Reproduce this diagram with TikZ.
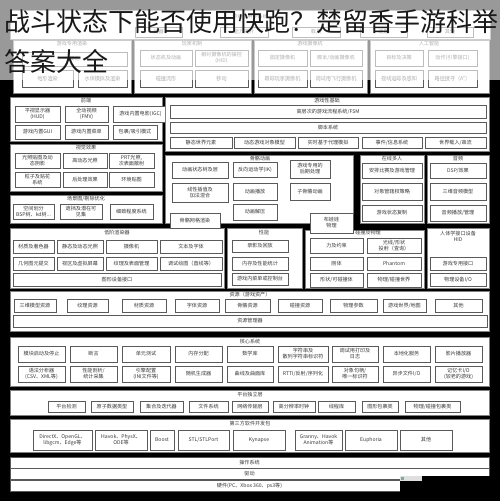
\documentclass[tikz,border=0pt]{standalone}
\usepackage{fontspec}
\newfontfamily\cjk{Noto Sans CJK SC}
\definecolor{boxgray}{HTML}{5A5A5A}
\definecolor{txtgray}{HTML}{3A3A3A}
\definecolor{pangray}{HTML}{808080}
\tikzset{
  bx/.style={draw=boxgray,fill=white,line width=0.8pt,inner sep=0pt,align=center,
    font=\cjk\fontsize{5.1}{6}\selectfont,text=txtgray},
  pnl/.style={draw=pangray,fill=white,line width=0.5pt,inner sep=0pt},
  ptl/.style={inner sep=0pt,font=\cjk\fontsize{5.1}{6}\selectfont,text=txtgray,align=center},
  ttl/.style={inner sep=0pt,anchor=base west,font=\cjk\fontsize{26}{30}\selectfont,text=black!90}
}
\newcommand\bx[6]{\node[bx,minimum width={(#4-#2)*1pt},minimum height={(#5-#3)*1pt}] (#1) at ({(#2+#4)/2},{(#3+#5)/2}) {#6};}
\newcommand\pn[5]{\node[pnl,minimum width={(#4-#2)*1pt},minimum height={(#5-#3)*1pt}] (#1) at ({(#2+#4)/2},{(#3+#5)/2}) {};}
\begin{document}
\begin{tikzpicture}[x=1pt,y=-1pt]
\useasboundingbox (0,0) rectangle (500,501);
\fill[black] (0,0) rectangle (500,501);
% ---------- game specific subsystems ----------
\pn{gss}{10}{10}{490}{39}
\node[ptl] (gsst) at (250,17) {游戏专用子系统};
\bx{wq}{135}{27}{182}{37}{武器}
\bx{nl}{220}{27}{268}{37}{能力提升}
\bx{zj}{292}{27}{340}{37}{载具}
\bx{mt}{360}{27}{407}{37}{谜题}
\bx{qt0}{427}{27}{473}{37}{其他}
\pn{gsr}{13}{40}{131}{93}
\node[ptl] (gsrt) at (72,44) {游戏专用渲染};
\bx{qtr}{22}{52}{127}{66}{其他}
\bx{dx}{22}{70}{73}{87}{地形渲染}
\bx{st}{78}{70}{127}{87}{水体模拟及渲染}
\pn{pm}{134}{40}{251}{93}
\node[ptl] (pmt) at (192,44) {玩家机制};
\bx{ztj}{140}{50}{192}{66}{状态机及动画}
\bx{xdc}{195}{50}{248}{66}{相对摄像机的操控\\(HID)}
\bx{pzl}{140}{70}{192}{87}{碰撞流形}
\bx{yd}{195}{70}{248}{87}{移动}
\pn{gc}{254}{40}{367}{93}
\node[ptl] (gct) at (310,44) {游戏摄像机};
\bx{gd}{258}{50}{307}{66}{固定摄像机}
\bx{jb}{310}{50}{362}{66}{脚本/动画摄像机}
\bx{gz}{258}{70}{307}{87}{跟踪玩家摄像机}
\bx{ts}{310}{70}{362}{87}{调试用飞行摄像机}
\pn{ai}{370}{40}{489}{93}
\node[ptl] (ait) at (429,44) {人工智能};
\bx{mb}{375}{50}{423}{66}{目标及决策}
\bx{dz}{428}{50}{477}{66}{动作(引擎接口)}
\bx{sx}{375}{70}{423}{87}{视线追踪及感知}
\bx{lj}{428}{70}{477}{87}{路径搜寻（A*）}
% ---------- front end ----------
\pn{fe}{10}{97}{162}{141}
\node[ptl] (fet) at (86,101) {前端};
\bx{hud}{15}{106}{60}{122}{平视显示器\\(HUD)}
\bx{fmv}{65}{106}{108}{122}{全动视频\\(FMV)}
\bx{igc}{113}{106}{168}{122}{游戏内置电影(IGC)}
\bx{gui}{15}{125}{60}{139}{游戏内置GUI}
\bx{cd}{65}{125}{108}{139}{游戏内置菜单}
\bx{bg}{113}{125}{157}{139}{包裹/吸引模式}
% ---------- visual effects ----------
\pn{ve}{10}{144}{162}{191}
\node[ptl] (vet) at (86,147.5) {视觉效果};
\bx{gztt}{15}{153}{60}{168}{光照贴图及动\\态阴影}
\bx{hdr}{63}{153}{107}{168}{高动态光照}
\bx{prt}{109}{153}{154}{168}{PRT光照,\\次表面散射}
\bx{lz}{15}{172}{60}{187}{粒子及贴花\\系统}
\bx{hcl}{63}{172}{107}{187}{后处理效果}
\bx{hj}{109}{172}{154}{187}{环境贴图}
% ---------- scene graph ----------
\pn{sg}{10}{195}{162}{223}
\node[ptl] (sgt) at (86,198.5) {场景图/剔除优化};
\bx{kj}{13}{204}{54}{219}{空间划分\\BSP树、kd树...}
\bx{zd}{60}{204}{102}{219}{遮挡及潜在可\\见集}
\bx{xz}{110}{204}{153}{219}{细致程度系统}
% ---------- gameplay foundations ----------
\pn{gf}{165}{97}{489}{151}
\node[ptl] (gft) at (327,101) {游戏性基础};
\bx{fsm}{170}{105}{486}{118}{高层次的游戏流程系统/FSM}
\bx{jbx}{170}{122}{486}{133}{脚本系统}
\bx{jt}{170}{137}{232}{148}{静态世界元素}
\bx{dt}{234}{137}{295}{148}{动态游戏对象模型}
\bx{ss}{298}{137}{358}{148}{实时基于代理模拟}
\bx{sj}{362}{137}{422}{148}{事件/信息系统}
\bx{sjzr}{425}{137}{486}{148}{世界载入/串流}
% ---------- skeletal animation ----------
\pn{sa}{165}{155}{353}{223}
\node[ptl] (sat) at (260,158.5) {骨骼动画};
\bx{dhs}{172}{162}{228}{178}{动画状态树及层}
\bx{ik}{233}{162}{277}{177}{反向运动学(IK)}
\bx{yxh}{290}{160}{330}{178}{游戏专用的\\后期处理}
\bx{xx}{172}{183}{228}{202}{线性插值及\\加法混合}
\bx{dhbf}{233}{183}{277}{200}{动画播放}
\bx{zgg}{290}{183}{330}{200}{子骨骼动画}
\bx{dhjy}{233}{204}{277}{220}{动画解压}
% ---------- online multiplayer ----------
\pn{om}{360}{155}{424}{223}
\node[ptl] (omt) at (392,158.5) {在线多人};
\bx{ap}{362}{163}{422}{178}{安排比赛及游戏管理}
\bx{dxg}{362}{183}{422}{200}{对象管辖权策略}
\bx{zt}{362}{205}{422}{221}{游戏状态复制}
% ---------- audio ----------
\pn{au}{427}{155}{489}{223}
\node[ptl] (aut) at (458,158.5) {音频};
\bx{dsp}{430}{163}{486}{178}{DSP/效果}
\bx{sw}{430}{183}{486}{200}{三维音频模型}
\bx{ypbf}{430}{205}{486}{221}{音频播放/管理}
% ---------- low level renderer ----------
\pn{llr}{10}{228}{224}{288}
\node[ptl] (llrt) at (117,233) {低阶渲染器};
\bx{czs}{13}{240}{54}{253}{材质及着色器}
\bx{jtg}{57}{240}{103}{253}{静态及动态光照}
\bx{sxj}{106}{240}{157}{253}{摄像机}
\bx{wb}{160}{240}{222}{253}{文本及字体}
\bx{jhty}{13}{257}{54}{270}{几何图元提交}
\bx{sq}{57}{257}{103}{270}{视区及虚拟屏幕}
\bx{wl}{106}{257}{157}{270}{纹理及表面管理}
\bx{tshz}{160}{257}{222}{270}{调试绘图（直线等）}
\bx{txsb}{13}{273}{221}{286}{图形设备接口}
\bx{ggwg}{170}{213}{220}{228}{骨骼网格渲染}
% ---------- profiling ----------
\pn{pf}{227}{228}{302}{288}
\node[ptl] (pft) at (264,233) {性能};
\bx{ly}{232}{240}{288}{252}{录影及回放}
\bx{nc}{232}{257}{288}{270}{内存及性能统计}
\bx{kzt}{232}{273}{288}{285}{游戏内菜单或控制台}
% ---------- collision & physics ----------
\pn{cp}{305}{230}{424}{288}
\node[ptl] (cpt) at (368,233) {碰撞及物理};
\bx{lys}{310}{238}{363}{253}{力及约束}
\bx{gx}{367}{238}{421}{253}{光线/形状\\投射（查询）}
\bx{gt}{310}{257}{363}{270}{刚体}
\bx{ph}{367}{257}{421}{270}{Phantom}
\bx{xzk}{310}{273}{363}{287}{形状/可碰撞体}
\bx{wlsj}{367}{273}{421}{287}{物理/碰撞世界}
\bx{bww}{310}{213}{353}{233}{布娃娃\\物理}
% ---------- HID ----------
\pn{hid}{427}{228}{489}{288}
\node[ptl] (hidt) at (458,236) {人体学接口设备\\HID};
\bx{zy}{430}{257}{486}{270}{游戏专用接口}
\bx{wlsb}{430}{273}{486}{286}{物理设备I/O}
% ---------- resources ----------
\pn{res}{10}{291}{489}{331}
\node[ptl] (rest) at (250,295) {资源（游戏资产）};
\bx{r1}{14}{299}{56}{312}{三维模型资源}
\bx{r2}{67}{299}{108}{312}{纹理资源}
\bx{r3}{122}{299}{166}{312}{材质资源}
\bx{r4}{175}{299}{219}{312}{字体资源}
\bx{r5}{225}{299}{270}{312}{骨骼资源}
\bx{r6}{278}{299}{322}{312}{碰撞资源}
\bx{r7}{330}{299}{377}{312}{物理参数}
\bx{r8}{383}{299}{426}{312}{游戏世界/地图}
\bx{r9}{435}{299}{482}{312}{其他}
\bx{rm}{13}{315}{487}{327}{资源管理器}
% ---------- core systems ----------
\pn{cs}{10}{337}{489}{386}
\node[ptl] (cst) at (250,342) {核心系统};
\bx{c1}{18}{346}{65}{362}{模块启动及停止}
\bx{c2}{70}{346}{117}{362}{断言}
\bx{c3}{122}{346}{170}{362}{单元测试}
\bx{c4}{175}{346}{222}{362}{内存分配}
\bx{c5}{227}{346}{273}{362}{数学库}
\bx{c6}{278}{346}{328}{362}{字符串及\\散列字符串标识符}
\bx{c7}{332}{346}{378}{362}{调试用打印及\\日志}
\bx{c8}{383}{346}{430}{362}{本地化服务}
\bx{c9}{435}{346}{482}{362}{影片播放器}
\bx{d1}{18}{366}{65}{382}{语法分析器\\(CSV、XML等)}
\bx{d2}{70}{366}{117}{382}{性能剖析/\\统计采集}
\bx{d3}{122}{366}{170}{382}{引擎配置\\(INI文件等)}
\bx{d4}{175}{366}{222}{382}{随机生成器}
\bx{d5}{227}{366}{273}{382}{曲线及曲面库}
\bx{d6}{278}{366}{328}{382}{RTTI/反射/序列化}
\bx{d7}{332}{366}{378}{382}{对象句柄/\\唯一标识符}
\bx{d8}{383}{366}{430}{382}{异步文件I/O}
\bx{d9}{435}{366}{482}{382}{记忆卡I/O\\(较老的游戏)}
% ---------- platform independence ----------
\pn{pi}{10}{390}{489}{415}
\node[ptl] (pit) at (250,395) {平台独立层};
\bx{p1}{48}{401}{85}{412}{平台检测}
\bx{p2}{91}{401}{133}{412}{原子数据类型}
\bx{p3}{140}{401}{183}{412}{集合及迭代器}
\bx{p4}{189}{401}{228}{412}{文件系统}
\bx{p5}{232}{401}{268}{412}{网络传输层}
\bx{p6}{273}{401}{315}{412}{高分辨率时钟}
\bx{p7}{318}{401}{355}{412}{线程库}
\bx{p8}{362}{401}{398}{412}{图形包裹类}
\bx{p9}{405}{401}{460}{412}{物理/碰撞包裹类}
% ---------- 3rd party ----------
\pn{tp}{10}{419}{489}{452}
\node[ptl] (tpt) at (250,424) {第三方软件开发包};
\bx{t1}{33}{430}{92}{450}{DirectX、OpenGL、\\libgcm、Edge等}
\bx{t2}{95}{430}{147}{450}{Havok、PhysX、\\ODE等}
\bx{t3}{150}{430}{174}{450}{Boost}
\bx{t4}{178}{430}{229}{450}{STL/STLPort}
\bx{t5}{233}{430}{285}{450}{Kynapse}
\bx{t6}{295}{430}{342}{450}{Granny、Havok\\Animation等}
\bx{t7}{345}{430}{397}{450}{Euphoria}
\bx{t8}{400}{430}{452}{450}{其他}
% ---------- OS / drivers / hardware ----------
\bx{os}{10}{457}{489}{468}{操作系统}
\bx{dr}{10}{468}{489}{479}{驱动}
\bx{hw}{10}{480}{489}{491}{硬件(PC、Xbox 360、ps3等)}
\fill[black] (400,476) rectangle (500,501);
\fill[gray!25] (400,476) rectangle (422,481);
\fill[teal!60] (401,477) rectangle (404,480);
% ---------- banner overlay ----------
\fill[white,opacity=0.6] (0,0) rectangle (500,80);
\node[ttl] (title1) at (4,31) {战斗状态下能否使用快跑？楚留香手游科举};
\node[ttl] (title2) at (4,71) {答案大全};
\end{tikzpicture}
\end{document}
